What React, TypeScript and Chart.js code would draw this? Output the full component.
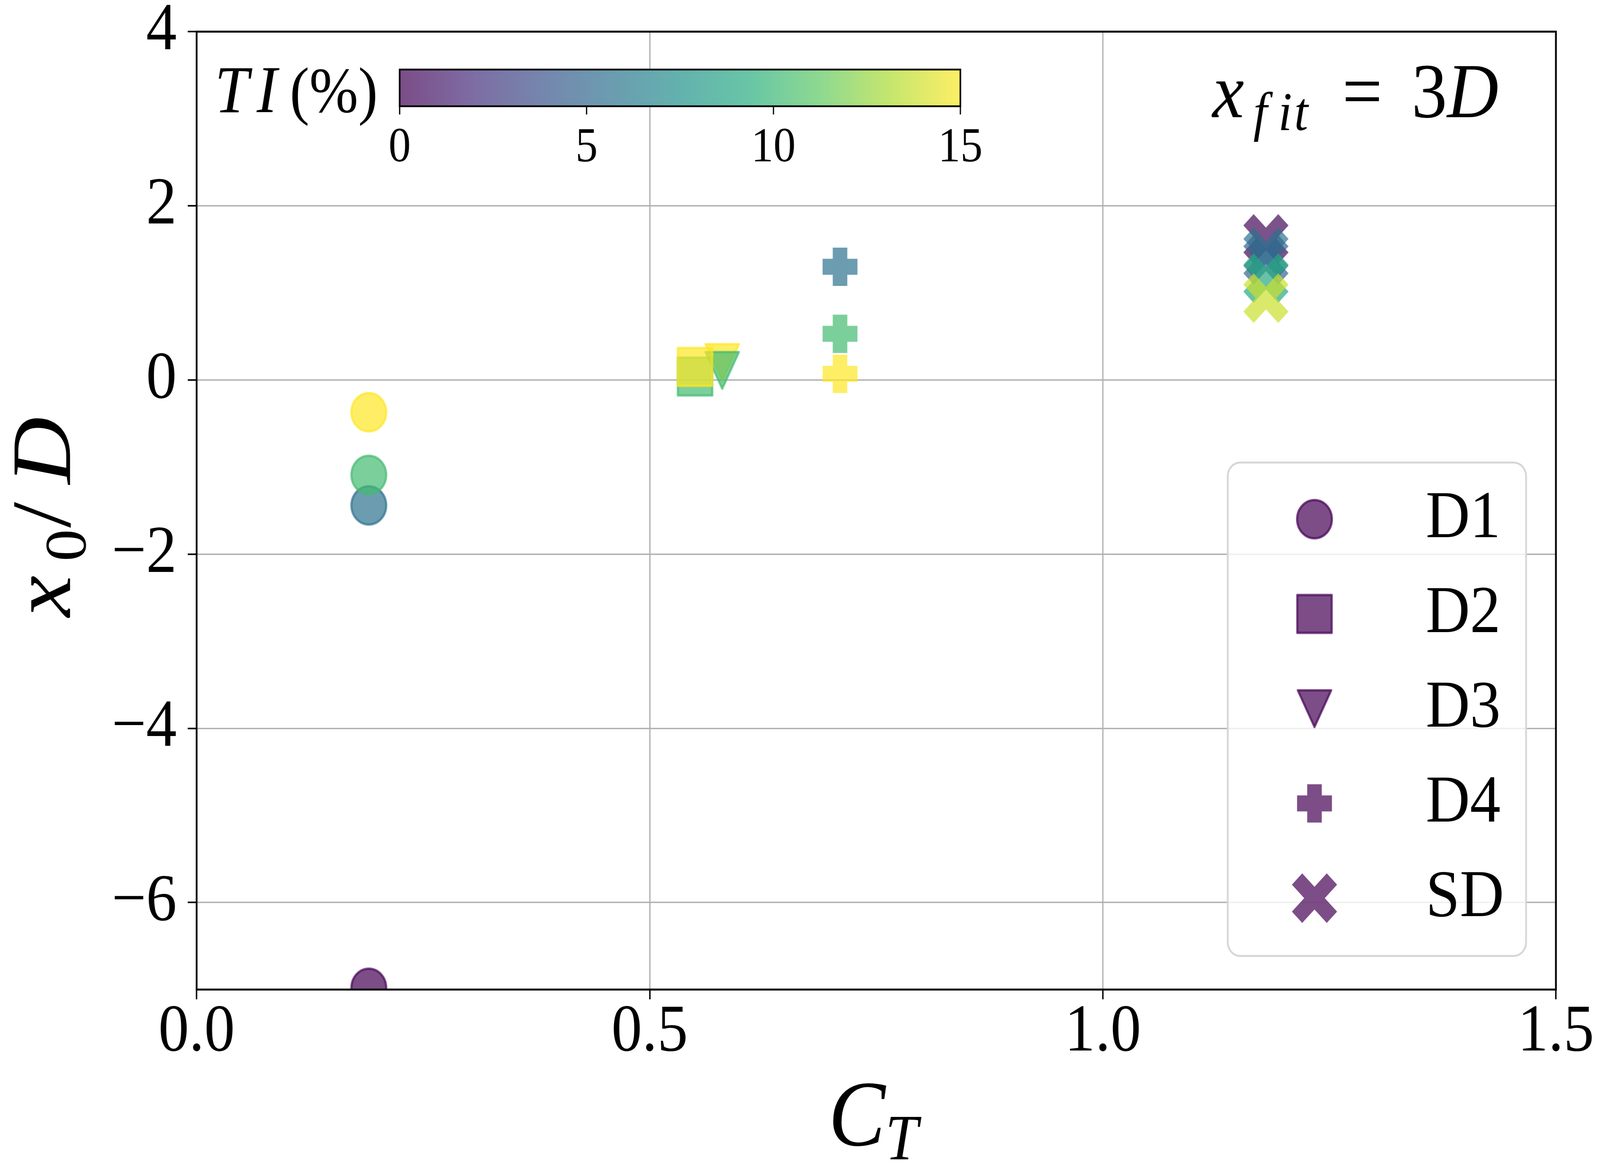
import React, { useEffect, useRef } from 'react';
import { Chart, registerables } from 'chart.js';

Chart.register(...registerables);

// ---------------- data ----------------
const xTicks = [0, 0.5, 1.0, 1.5];
const xTickLabels = ['0.0', '0.5', '1.0', '1.5'];
const yTicks = [-6, -4, -2, 0, 2, 4];
const yTickLabels = ['\u22126', '\u22124', '\u22122', '0', '2', '4'];
const seriesNames = ['D1', 'D2', 'D3', 'D4', 'SD'];
const seriesShapes = ['circle', 'square', 'triDown', 'plus', 'x'];

const ctD1 = [0.19, 0.19, 0.19, 0.19];
const x0D1 = [-6.98, -1.44, -1.09, -0.37];
const tiD1 = [0, 5.6, 10.3, 15];

const ctD2 = [0.55, 0.55];
const x0D2 = [0.04, 0.15];
const tiD2 = [10.3, 15];

const ctD3 = [0.58, 0.58];
const x0D3 = [0.2, 0.11];
const tiD3 = [15, 10.3];

const ctD4 = [0.71, 0.71, 0.71];
const x0D4 = [1.3, 0.53, 0.07];
const tiD4 = [5.6, 10.3, 15];

const ctSD = [1.18, 1.18, 1.18, 1.18, 1.18];
const x0SD = [1.62, 1.465, 1.38, 1.17, 0.94];
const tiSD = [0.3, 5.6, 5.0, 9.0, 13.8];

const tiTicks = [0, 5, 10, 15];
const tiMin = 0;
const tiMax = 15;

// ---------------- styling helpers ----------------
const W = 4500;
const H = 3000;
const VIRIDIS = ['#440154', '#472d7b', '#3b528b', '#2c728e', '#21918c', '#28ae80', '#5ec962', '#addc30', '#fde725'];
const ALPHA = 0.7;
const SERIF = '"Liberation Serif", "DejaVu Serif", serif';

function hexToRgb(h: string) {
  return [parseInt(h.slice(1, 3), 16), parseInt(h.slice(3, 5), 16), parseInt(h.slice(5, 7), 16)];
}
function viridis(t: number) {
  const tt = Math.max(0, Math.min(1, t));
  const pos = tt * (VIRIDIS.length - 1);
  const i = Math.min(VIRIDIS.length - 2, Math.floor(pos));
  const f = pos - i;
  const a = hexToRgb(VIRIDIS[i]);
  const b = hexToRgb(VIRIDIS[i + 1]);
  return a.map((v, k) => Math.round(v + (b[k] - v) * f));
}

function plusPath(g: CanvasRenderingContext2D, L: number, t: number) {
  g.moveTo(-t, -L); g.lineTo(t, -L); g.lineTo(t, -t); g.lineTo(L, -t); g.lineTo(L, t); g.lineTo(t, t);
  g.lineTo(t, L); g.lineTo(-t, L); g.lineTo(-t, t); g.lineTo(-L, t); g.lineTo(-L, -t); g.lineTo(-t, -t);
  g.closePath();
}

function makeMarker(shape: string, rgb: number[]) {
  const S = 150;
  const c = document.createElement('canvas');
  c.width = S; c.height = S;
  const g = c.getContext('2d')!;
  g.translate(S / 2, S / 2);
  const col = `rgba(${rgb[0]},${rgb[1]},${rgb[2]},${ALPHA})`;
  g.fillStyle = col; g.strokeStyle = col; g.lineWidth = 6; g.lineJoin = 'round';
  g.beginPath();
  if (shape === 'circle') {
    g.arc(0, 0, 49, 0, Math.PI * 2); g.fill(); g.stroke();
  } else if (shape === 'square') {
    g.rect(-48.5, -48.5, 97, 97); g.fill(); g.stroke();
  } else if (shape === 'triDown') {
    g.moveTo(-47, -47); g.lineTo(47, -47); g.lineTo(0, 47); g.closePath(); g.fill(); g.stroke();
  } else if (shape === 'plus') {
    plusPath(g, 49, 20.5); g.fill();
  } else {
    g.rotate(Math.PI / 4); plusPath(g, 69.3, 20.5); g.fill();
  }
  return c;
}

const seriesCT = [ctD1, ctD2, ctD3, ctD4, ctSD];
const seriesX0 = [x0D1, x0D2, x0D3, x0D4, x0SD];
const seriesTI = [tiD1, tiD2, tiD3, tiD4, tiSD];

function drawParts(ctx: CanvasRenderingContext2D, parts: { t: string; x: number; y: number; size: number; italic?: boolean }[]) {
  ctx.textAlign = 'left';
  ctx.textBaseline = 'alphabetic';
  ctx.fillStyle = '#000';
  for (const p of parts) {
    ctx.font = `${p.italic ? 'italic ' : ''}${p.size}px ${SERIF}`;
    ctx.fillText(p.t, p.x, p.y);
  }
}

const overlayPlugin = {
  id: 'overlay',
  afterDraw(chart: any) {
    const ctx: CanvasRenderingContext2D = chart.ctx;
    const a = chart.chartArea;
    ctx.save();
    // frame (spines)
    ctx.strokeStyle = '#000';
    ctx.lineWidth = 5;
    ctx.strokeRect(a.left, a.top, a.right - a.left, a.bottom - a.top);

    // colorbar inset
    const cbL = 1124, cbR = 2701, cbT = 178, cbB = 272;
    ctx.fillStyle = '#fff';
    ctx.fillRect(cbL, cbT, cbR - cbL, cbB - cbT);
    const grad = ctx.createLinearGradient(cbL, 0, cbR, 0);
    VIRIDIS.forEach((h, i) => {
      const c = hexToRgb(h);
      grad.addColorStop(i / (VIRIDIS.length - 1), `rgba(${c[0]},${c[1]},${c[2]},${ALPHA})`);
    });
    ctx.fillStyle = grad;
    ctx.fillRect(cbL, cbT, cbR - cbL, cbB - cbT);
    ctx.lineWidth = 4.5;
    ctx.strokeStyle = '#000';
    ctx.strokeRect(cbL, cbT, cbR - cbL, cbB - cbT);
    ctx.lineWidth = 3.5;
    ctx.font = `125px ${SERIF}`;
    ctx.textAlign = 'center';
    ctx.textBaseline = 'alphabetic';
    ctx.fillStyle = '#000';
    tiTicks.forEach((v) => {
      const x = cbL + ((v - tiMin) / (tiMax - tiMin)) * (cbR - cbL);
      ctx.beginPath(); ctx.moveTo(x, cbB); ctx.lineTo(x, cbB + 21); ctx.stroke();
      ctx.fillText(String(v), x, 413);
    });
    drawParts(ctx, [
      { t: 'T', x: 604, y: 287, size: 172, italic: true },
      { t: 'I', x: 722, y: 287, size: 172, italic: true },
      { t: '(%)', x: 815, y: 287, size: 165 },
    ]);

    // x_fit = 3D
    drawParts(ctx, [
      { t: 'x', x: 3410, y: 300, size: 200, italic: true },
      { t: 'f', x: 3525, y: 333, size: 140, italic: true },
      { t: 'i', x: 3595, y: 333, size: 140, italic: true },
      { t: 't', x: 3640, y: 333, size: 140, italic: true },
      { t: '=', x: 3775, y: 300, size: 200 },
      { t: '3', x: 3970, y: 300, size: 200 },
      { t: 'D', x: 4070, y: 300, size: 200, italic: true },
    ]);

    // legend
    const lx = 3453, ly = 1184, lw = 839, lh = 1263;
    ctx.beginPath();
    ctx.roundRect(lx, ly, lw, lh, 35);
    ctx.fillStyle = 'rgba(255,255,255,0.8)';
    ctx.fill();
    ctx.lineWidth = 5;
    ctx.strokeStyle = '#d6d6d6';
    ctx.stroke();
    const purple = viridis(0);
    ctx.font = `172px ${SERIF}`;
    ctx.textAlign = 'left';
    ctx.fillStyle = '#000';
    chart.data.datasets.forEach((ds: any, i: number) => {
      const cy = 1329 + i * 242.5;
      const m = makeMarker(seriesShapes[i], purple);
      ctx.drawImage(m, 3697 - m.width / 2, cy - m.height / 2);
      ctx.fillText(ds.label, 4010, cy + 46);
    });

    // axis titles
    drawParts(ctx, [
      { t: 'C', x: 2330, y: 2932, size: 240, italic: true },
      { t: 'T', x: 2490, y: 2967, size: 165, italic: true },
    ]);
    ctx.translate(197, 1579);
    ctx.rotate(-Math.PI / 2);
    drawParts(ctx, [
      { t: 'x', x: 0, y: 0, size: 238, italic: true },
      { t: '0', x: 142, y: 43, size: 165 },
      { t: '/', x: 228, y: 0, size: 238 },
      { t: 'D', x: 340, y: 0, size: 238, italic: true },
    ]);
    ctx.restore();
  },
};

export default function App() {
  const ref = useRef<HTMLCanvasElement>(null);
  useEffect(() => {
    document.body.style.margin = '0';
    document.body.style.overflow = 'hidden';
    const datasets = seriesNames.map((name, s) => ({
      label: name,
      data: seriesCT[s].map((x, i) => ({ x, y: seriesX0[s][i] })),
      pointStyle: seriesTI[s].map((t) => makeMarker(seriesShapes[s], viridis((t - tiMin) / (tiMax - tiMin)))),
      pointRadius: 50,
      pointHoverRadius: 50,
      showLine: false,
      clip: 0,
    }));
    const tickFont = { family: SERIF, size: 172, lineHeight: 1 };
    const chart = new Chart(ref.current!, {
      type: 'scatter',
      data: { datasets },
      options: {
        animation: false,
        responsive: false,
        devicePixelRatio: 1,
        events: [],
        layout: { padding: { left: 0, top: 81, right: 124, bottom: 0 } },
        plugins: { legend: { display: false }, tooltip: { enabled: false }, title: { display: false } },
        scales: {
          x: {
            type: 'linear',
            position: 'bottom',
            min: 0,
            max: 1.5,
            z: 1,
            afterBuildTicks: (s: any) => { s.ticks = xTicks.map((v) => ({ value: v })); },
            afterFit: (s: any) => { s.height = 467; s.paddingLeft = 0; s.paddingRight = 0; s.paddingTop = 0; s.paddingBottom = 0; },
            grid: { color: '#b0b0b0', lineWidth: 3.5, tickColor: '#000', tickLength: 25, tickWidth: 4 },
            border: { display: false },
            ticks: { font: tickFont, color: '#000', padding: 0, maxRotation: 0, autoSkip: false, callback: (_v: any, i: number) => xTickLabels[i] },
          },
          y: {
            type: 'linear',
            position: 'left',
            min: -7,
            max: 4,
            z: 1,
            afterBuildTicks: (s: any) => { s.ticks = yTicks.map((v) => ({ value: v })); },
            afterFit: (s: any) => { s.width = 553; s.paddingLeft = 0; s.paddingRight = 0; s.paddingTop = 0; s.paddingBottom = 0; },
            grid: { color: '#b0b0b0', lineWidth: 3.5, tickColor: '#000', tickLength: 25, tickWidth: 4 },
            border: { display: false },
            ticks: { font: tickFont, color: '#000', padding: 31, autoSkip: false, callback: (_v: any, i: number) => yTickLabels[i] },
          },
        },
      } as any,
      plugins: [overlayPlugin],
    });
    return () => chart.destroy();
  }, []);
  return (
    <div style={{ position: 'fixed', left: 0, top: 0, width: '100vw', height: '100vh', background: '#fff' }}>
      <canvas ref={ref} width={W} height={H} style={{ display: 'block', width: '100vw', height: '100vh' }} />
    </div>
  );
}
